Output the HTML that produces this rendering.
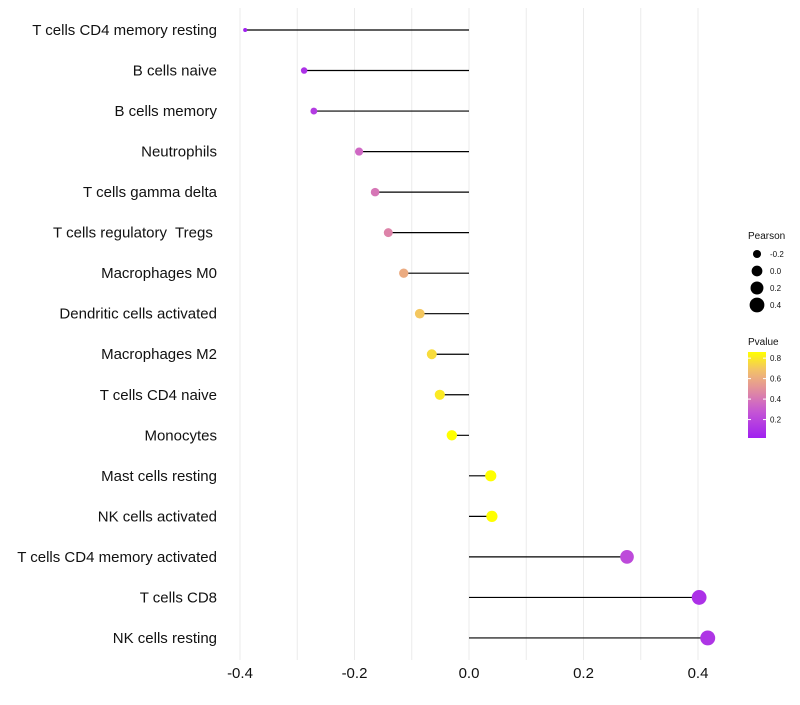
<!DOCTYPE html>
<html><head><meta charset="utf-8"><style>
body{margin:0;background:#fff;font-family:"Liberation Sans",sans-serif}
text{white-space:pre}
</style></head><body>
<svg id="c" width="800" height="700" xmlns="http://www.w3.org/2000/svg"></svg>
<script>
const categories=["T cells CD4 memory resting","B cells naive","B cells memory","Neutrophils","T cells gamma delta","T cells regulatory  Tregs ","Macrophages M0","Dendritic cells activated","Macrophages M2","T cells CD4 naive","Monocytes","Mast cells resting","NK cells activated","T cells CD4 memory activated","T cells CD8","NK cells resting"];
const pearson=[-0.391,-0.288,-0.271,-0.192,-0.164,-0.141,-0.114,-0.086,-0.065,-0.051,-0.030,0.038,0.040,0.276,0.402,0.417];
const pvalue=[0.02,0.1,0.15,0.35,0.4,0.45,0.6,0.7,0.76,0.8,0.88,0.87,0.86,0.22,0.1,0.12];
const xTicks=[-0.4,-0.2,0.0,0.2,0.4];
const sizeLegend=[-0.2,0.0,0.2,0.4];
const pLegend=[0.8,0.6,0.4,0.2];
const NS="http://www.w3.org/2000/svg",svg=document.getElementById('c');
const x=v=>469+v*572.5, y=i=>30+i*40.53, r=v=>Math.sqrt(Math.max(1,29+64*v));
const stops=[[0,[160,32,240]],[0.33,[200,90,210]],[0.55,[225,140,160]],[0.78,[242,190,110]],[1,[255,255,0]]];
function col(p){let t=Math.max(0,Math.min(1,(p-0.02)/0.84));for(let k=1;k<stops.length;k++){if(t<=stops[k][0]){const a=stops[k-1],b=stops[k],u=(t-a[0])/(b[0]-a[0]);return 'rgb('+a[1].map((c,j)=>Math.round(c+(b[1][j]-c)*u)).join(',')+')';}}return 'rgb(255,255,0)';}
function el(t,a,p){const e=document.createElementNS(NS,t);for(const k in a)e.setAttribute(k,a[k]);(p||svg).appendChild(e);return e;}
for(let v=-0.4;v<=0.401;v+=0.1){const g=el('line',{x1:x(v),x2:x(v),y1:8,y2:660,stroke:'#ebebeb','stroke-width':1});

}
xTicks.forEach(v=>{const t=el('text',{x:x(v),y:678,'text-anchor':'middle','font-size':15,fill:'#111'});t.textContent=v.toFixed(1);

});
categories.forEach((c,i)=>{const t=el('text',{x:217,y:y(i)+5,'text-anchor':'end','font-size':15,fill:'#111'});t.textContent=c;


const l=el('line',{x1:x(0),x2:x(pearson[i]),y1:y(i),y2:y(i),stroke:'#000','stroke-width':1.2});


const d=el('circle',{cx:x(pearson[i]),cy:y(i),r:r(pearson[i]),fill:col(pvalue[i])});

});
let t=el('text',{x:748,y:239,'font-size':10,fill:'#111'});t.textContent='Pearson';


sizeLegend.forEach((v,k)=>{const cy=254+k*17;const c=el('circle',{cx:757,cy:cy,r:r(v),fill:'#000'});


const tt=el('text',{x:770,y:cy+3,'font-size':8,fill:'#111'});tt.textContent=v.toFixed(1);

});
t=el('text',{x:748,y:345,'font-size':10,fill:'#111'});t.textContent='Pvalue';


const defs=el('defs',{});const lg=el('linearGradient',{id:'g',x1:0,y1:1,x2:0,y2:0},defs);
for(let k=0;k<=10;k++)el('stop',{offset:k/10,'stop-color':col(0.02+0.84*k/10)},lg);
const bar=el('rect',{x:748,y:352,width:18,height:86,fill:'url(#g)'});


pLegend.forEach(v=>{const cy=438-(v-0.02)/0.84*86;el('line',{x1:748,x2:751,y1:cy,y2:cy,stroke:'#fff'});el('line',{x1:763,x2:766,y1:cy,y2:cy,stroke:'#fff'});
const tt=el('text',{x:770,y:cy+3,'font-size':8,fill:'#111'});tt.textContent=v.toFixed(1);

});
</script>
</body></html>
